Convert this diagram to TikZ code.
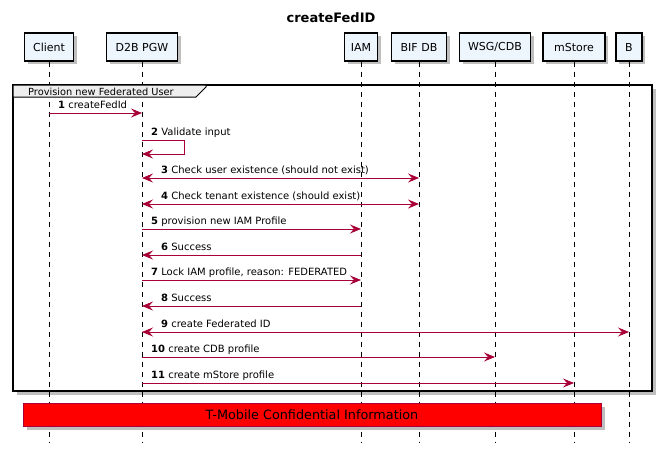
\documentclass[tikz,border=0pt]{standalone}
\usepackage{fontspec}
\setmainfont{DejaVu Sans}
\usetikzlibrary{arrows.meta}
\definecolor{arrowc}{HTML}{A80036}
\definecolor{partfill}{HTML}{EEF6FD}
\definecolor{tabfill}{HTML}{EEEEEE}
\tikzset{
  part/.style={draw=black, line width=1.2pt, fill=partfill, minimum height=28pt, inner sep=0pt, font=\fontsize{11}{13}\selectfont},
  lifeline/.style={black, line width=0.8pt, dash pattern=on 5pt off 5pt},
  msg/.style={arrowc, line width=0.9pt, -{Stealth[length=11pt,width=9pt,inset=4pt]}},
  bimsg/.style={arrowc, line width=0.9pt, {Stealth[length=11pt,width=9pt,inset=4pt]}-{Stealth[length=11pt,width=9pt,inset=4pt]}},
  lbl/.style={anchor=base west, inner sep=0pt, font=\fontsize{10}{12}\selectfont},
  shadowc/.style={fill=black!35, draw=none}
}
\begin{document}
\begin{tikzpicture}[x=1pt,y=-1pt]
\useasboundingbox (0,0) rectangle (662,453);
% title
\node[font=\bfseries\fontsize{13}{15}\selectfont] (title) at (331,18) {createFedID};
% participant shadows
\foreach \x/\w in {49/49,142/71,361/33,419/55,495/71,574/62,629/26}{
  \fill[black!25] (\x-\w/2+3,36) rectangle (\x+\w/2+3,64);
}
% participants
\node[part, minimum width=49pt] (client) at (49,47) {Client};
\node[part, minimum width=71pt] (d2b) at (142,47) {D2B PGW};
\node[part, minimum width=33pt] (iam) at (361,47) {IAM};
\node[part, minimum width=55pt] (bif) at (419,47) {BIF DB};
\node[part, minimum width=71pt] (wsg) at (495,47) {WSG/CDB};
\node[part, minimum width=62pt] (mstore) at (574,47) {mStore};
\node[part, minimum width=26pt] (b) at (629,47) {B};
% lifeline ends
\coordinate (bottom) at (0,442);
% frame shadow and frame
\fill[black!25] (17,89) rectangle (656,395);
\fill[white] (13,85) rectangle (652,391);
% lifelines
\foreach \p in {client,d2b,iam,bif,wsg,mstore,b}{
  \draw[lifeline] (\p.south) -- (\p |- bottom);
}
\draw[black, line width=1.4pt] (13,85) rectangle (652,391);
\node[draw=none, inner sep=0pt] (tab) at (13,85) {};
\filldraw[fill=tabfill, draw=black, line width=1pt] (13,85) -- (206,85) -- (206,87) -- (196,97) -- (13,97) -- cycle;
\node[anchor=base west, inner sep=0pt, font=\fontsize{9.8}{12}\selectfont] (tablabel) at (28,95) {Provision new Federated User};
% message y-levels
\foreach \i/\y in {1/113,2/140,3/178,4/204,5/229,6/255,7/280,8/306,9/332,10/357,11/383}{
  \coordinate (y\i) at (0,\y);
}
% 1
\draw[msg] (client |- y1) -- (d2b |- y1);
\node[lbl] (l1) at (58,108.5) {\textbf{1} createFedId};
% 2 self
\coordinate (s2a) at (184,140);
\coordinate (s2b) at (184,154);
\draw[msg] (d2b |- y2) -- (s2a) -- (s2b) -- (d2b |- s2b);
\node[lbl] (l2) at (151,135.5) {\textbf{2} Validate input};
% 3
\draw[bimsg] (d2b |- y3) -- (bif |- y3);
\node[lbl] (l3) at (161,173.5) {\textbf{3} Check user existence (should not exist)};
% 4
\draw[bimsg] (d2b |- y4) -- (bif |- y4);
\node[lbl] (l4) at (161,199.5) {\textbf{4} Check tenant existence (should exist)};
% 5
\draw[msg] (d2b |- y5) -- (iam |- y5);
\node[lbl] (l5) at (151,224.5) {\textbf{5} provision new IAM Profile};
% 6
\draw[msg] (iam |- y6) -- (d2b |- y6);
\node[lbl] (l6) at (161,250.5) {\textbf{6} Success};
% 7
\draw[msg] (d2b |- y7) -- (iam |- y7);
\node[lbl] (l7) at (151,275.5) {\textbf{7} Lock IAM profile, reason: FEDERATED};
% 8
\draw[msg] (iam |- y8) -- (d2b |- y8);
\node[lbl] (l8) at (161,301.5) {\textbf{8} Success};
% 9
\draw[bimsg] (d2b |- y9) -- (b |- y9);
\node[lbl] (l9) at (161,327.5) {\textbf{9} create Federated ID};
% 10
\draw[msg] (d2b |- y10) -- (wsg |- y10);
\node[lbl] (l10) at (151,352.5) {\textbf{10} create CDB profile};
% 11
\draw[msg] (d2b |- y11) -- (mstore |- y11);
\node[lbl] (l11) at (151,378.5) {\textbf{11} create mStore profile};
% confidential box
\fill[black!25] (27,407) rectangle (605,430);
\node[draw=arrowc, fill=red, line width=0.8pt, minimum width=578pt, minimum height=23pt, inner sep=0pt, font=\fontsize{12.8}{15}\selectfont] (conf) at (312,414.5) {T-Mobile Confidential Information};
\end{tikzpicture}
\end{document}
